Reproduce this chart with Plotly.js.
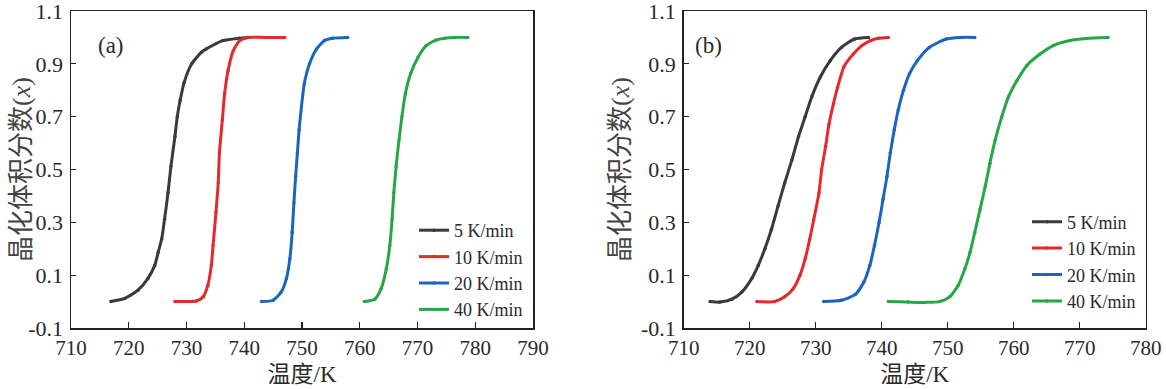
<!DOCTYPE html>
<html>
<head>
<meta charset="utf-8">
<script src="https://cdn.plot.ly/plotly-3.0.1.min.js"></script>
<style>html,body{margin:0;padding:0;background:#fff;}#chart{width:1166px;height:389px;}</style>
</head>
<body>
<div id="chart"></div>
<script>
// ---- Data ----
const seriesNames = ["5 K/min", "10 K/min", "20 K/min", "40 K/min"];
const seriesColors = ["#3a3a3a", "#e52a2e", "#1a66bd", "#27a648"];

// Panel (a)
const a5T  = [716.9, 719.3, 721.6, 723.3, 724.5, 725.1, 725.7, 726.2, 726.8, 727.3, 728.0, 728.4, 728.9, 729.6, 730.9, 732.6, 733.4, 736.3, 739.2, 740.6];
const a5X  = [0, 0.012, 0.043, 0.087, 0.137, 0.187, 0.237, 0.312, 0.412, 0.512, 0.625, 0.70, 0.762, 0.83, 0.90, 0.944, 0.956, 0.988, 0.997, 1.0];
const a10T = [728.0, 729.5, 731.7, 732.9, 733.7, 734.3, 734.6, 735.1, 735.5, 735.7, 736.2, 736.6, 737.2, 738.1, 739.2, 740.6, 743.5, 747.0];
const a10X = [0, 0, 0.002, 0.018, 0.062, 0.137, 0.212, 0.337, 0.45, 0.562, 0.687, 0.787, 0.875, 0.95, 0.988, 1.0, 1.0, 1.0];
const a20T = [743.0, 745.0, 746.4, 747.3, 747.9, 748.3, 748.6, 748.9, 749.2, 749.5, 749.9, 750.4, 751.3, 752.5, 753.9, 755.3, 757.9];
const a20X = [0, 0.005, 0.036, 0.087, 0.162, 0.262, 0.374, 0.474, 0.562, 0.65, 0.737, 0.825, 0.90, 0.956, 0.988, 0.997, 1.0];
const a40T = [760.8, 762.6, 763.7, 764.6, 765.2, 765.6, 765.9, 766.3, 766.8, 767.3, 767.9, 768.8, 770.1, 771.5, 773.2, 774.7, 776.5, 778.7];
const a40X = [0, 0.009, 0.049, 0.124, 0.212, 0.312, 0.412, 0.512, 0.612, 0.70, 0.787, 0.862, 0.925, 0.969, 0.99, 0.997, 1.0, 1.0];

// Panel (b)
const b5T  = [714.0, 715.5, 717.3, 718.8, 720.3, 721.3, 722.3, 723.3, 724.3, 725.3, 726.4, 727.4, 728.4, 729.4, 730.7, 732.2, 733.9, 735.9, 738.0];
const b5X  = [0, -0.002, 0.009, 0.036, 0.087, 0.137, 0.20, 0.274, 0.362, 0.449, 0.537, 0.625, 0.70, 0.775, 0.85, 0.912, 0.962, 0.994, 1.0];
const b10T = [721.1, 723.8, 725.3, 726.6, 727.6, 728.4, 729.1, 729.7, 730.5, 730.9, 731.5, 732.0, 732.7, 733.3, 734.3, 735.7, 737.0, 738.3, 739.5, 741.0];
const b10X = [0, 0, 0.018, 0.049, 0.099, 0.162, 0.237, 0.31, 0.412, 0.50, 0.587, 0.670, 0.75, 0.81, 0.89, 0.937, 0.969, 0.988, 0.997, 1.0];
const b20T = [731.2, 733.9, 736.0, 737.3, 738.2, 738.9, 739.6, 740.2, 740.8, 741.3, 741.9, 742.5, 743.3, 744.2, 745.4, 747.2, 749.8, 751.9, 754.1];
const b20X = [0, 0.005, 0.027, 0.074, 0.137, 0.212, 0.299, 0.387, 0.474, 0.562, 0.65, 0.725, 0.80, 0.862, 0.912, 0.962, 0.994, 1.0, 1.0];
const b40T = [741.0, 744.0, 746.5, 748.8, 750.3, 751.6, 752.6, 753.4, 754.1, 754.9, 755.7, 756.4, 757.2, 758.2, 759.2, 760.5, 762.0, 764.0, 766.0, 768.5, 771.0, 774.3];
const b40X = [0, -0.002, -0.003, 0, 0.018, 0.062, 0.124, 0.187, 0.262, 0.349, 0.437, 0.524, 0.612, 0.70, 0.775, 0.837, 0.894, 0.937, 0.969, 0.988, 0.996, 1.0];

// Ticks
const yTickVals = [-0.1, 0.1, 0.3, 0.5, 0.7, 0.9, 1.1];
const yTickText = ["-0.1", "0.1", "0.3", "0.5", "0.7", "0.9", "1.1"];
const xTickValsA = [710, 720, 730, 740, 750, 760, 770, 780, 790];
const xTickValsB = [710, 720, 730, 740, 750, 760, 770, 780];
const cjk = "font-family:'Noto Sans CJK SC'";
const xTitle = "<span style=\"" + cjk + "\">温度</span>/K";
const yTitle = "<span style=\"" + cjk + "\">晶化体积分数</span>(<i>x</i>)";
const panelLabels = ["(a)", "(b)"];

// ---- Build traces ----
const serif = "Liberation Serif";
const textColor = "#2a2a2a";
const aSets = [[a5T, a5X], [a10T, a10X], [a20T, a20X], [a40T, a40X]];
const bSets = [[b5T, b5X], [b10T, b10X], [b20T, b20X], [b40T, b40X]];
const traces = [];
aSets.forEach((s, i) => traces.push({
  x: s[0], y: s[1], type: "scatter", mode: "lines+markers", name: seriesNames[i],
  line: {color: seriesColors[i], width: 3, shape: "spline", smoothing: 0.6},
  marker: {color: seriesColors[i], size: 3.5},
  xaxis: "x", yaxis: "y", legend: "legend"
}));
bSets.forEach((s, i) => traces.push({
  x: s[0], y: s[1], type: "scatter", mode: "lines+markers", name: seriesNames[i],
  line: {color: seriesColors[i], width: 3, shape: "spline", smoothing: 0.6},
  marker: {color: seriesColors[i], size: 3.5},
  xaxis: "x2", yaxis: "y2", legend: "legend2"
}));

const W = 1166, H = 389;
const T = 11, B = 61;               // plot box spans y = 11 .. 328 px
const pH = H - T - B;
function xAxis(dom, range, vals, anchor) {
  return {
    domain: dom, range: range, anchor: anchor, tickmode: "array", tickvals: vals,
    ticks: "inside", ticklen: 6, tickwidth: 1.2, tickcolor: "#222",
    showline: true, linecolor: "#222", linewidth: 1.5, mirror: true,
    showgrid: false, zeroline: false, ticklabeloverflow: "allow",
    tickfont: {family: serif, size: 21, color: textColor},
    title: {text: xTitle, font: {family: serif, size: 23, color: textColor}, standoff: 2}
  };
}
function yAxis(anchor) {
  return {
    domain: [0, 1], range: [-0.1, 1.1], anchor: anchor, tickmode: "array",
    tickvals: yTickVals, ticktext: yTickText,
    ticks: "inside", ticklen: 5, tickwidth: 1.2, tickcolor: "#222",
    showline: true, linecolor: "#222", linewidth: 1.5, mirror: true,
    showgrid: false, zeroline: false, ticklabelstandoff: 2, ticklabeloverflow: "allow",
    tickfont: {family: serif, size: 22, color: textColor},
    title: {text: yTitle, font: {family: serif, size: 26, color: "#444"}, standoff: 4}
  };
}

const layout = {
  width: W, height: H,
  margin: {l: 0, r: 0, t: T, b: B},
  paper_bgcolor: "#fff", plot_bgcolor: "#fff",
  showlegend: true,
  xaxis: xAxis([71 / W, 533 / W], [710, 790], xTickValsA, "y"),
  yaxis: yAxis("x"),
  xaxis2: xAxis([683.7 / W, 1145.7 / W], [710, 780], xTickValsB, "y2"),
  yaxis2: yAxis("x2"),
  legend: {x: 414 / W, y: (328 - 270) / pH, xanchor: "left", yanchor: "middle",
    bgcolor: "rgba(0,0,0,0)", borderwidth: 0, tracegroupgap: 0,
    font: {family: serif, size: 18, color: textColor}},
  legend2: {x: 1027 / W, y: (328 - 261.5) / pH, xanchor: "left", yanchor: "middle",
    bgcolor: "rgba(0,0,0,0)", borderwidth: 0, tracegroupgap: 0,
    font: {family: serif, size: 18, color: textColor}},
  annotations: [
    {text: panelLabels[0], xref: "paper", yref: "paper", x: 96 / W, y: (328 - 31) / pH,
      showarrow: false, font: {family: serif, size: 23, color: textColor}},
    {text: panelLabels[1], xref: "paper", yref: "paper", x: 708 / W, y: (328 - 31) / pH,
      showarrow: false, font: {family: serif, size: 23, color: textColor}}
  ]
};

Plotly.newPlot("chart", traces, layout, {displayModeBar: false, staticPlot: true});
</script>
</body>
</html>
